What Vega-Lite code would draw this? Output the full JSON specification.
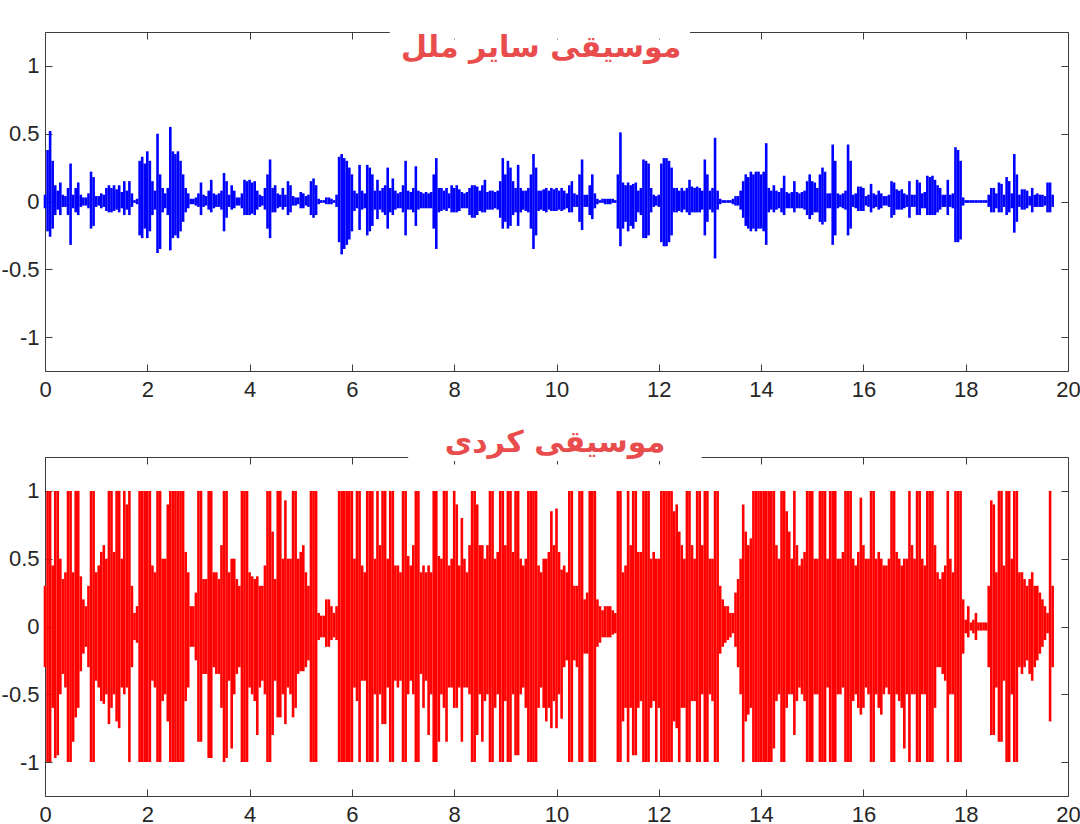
{
  "$schema": "https://vega.github.io/schema/vega-lite/v6.json",
  "description": "Waveforms of two music recordings: other nations (blue) and Kurdish (red)",
  "background": "white",
  "padding": {"left": 0, "top": 27, "right": 0, "bottom": 0},
  "spacing": 86,
  "bounds": "flush",
  "datasets": {
    "wave": [
      {"t":0,"bh":0.05,"bl":-0.05,"rh":0.3,"rl":-0.3},
      {"t":0.05,"bh":0.38,"bl":-0.22,"rh":1,"rl":-1},
      {"t":0.1,"bh":0.52,"bl":-0.26,"rh":1,"rl":-1},
      {"t":0.15,"bh":0.3,"bl":-0.2,"rh":0.45,"rl":-0.6},
      {"t":0.2,"bh":0.12,"bl":-0.1,"rh":1,"rl":-0.97},
      {"t":0.25,"bh":0.08,"bl":-0.06,"rh":1,"rl":-0.95},
      {"t":0.3,"bh":0.14,"bl":-0.1,"rh":0.5,"rl":-0.5},
      {"t":0.35,"bh":0.05,"bl":-0.04,"rh":0.35,"rl":-0.35},
      {"t":0.4,"bh":0.04,"bl":-0.04,"rh":0.4,"rl":-0.45},
      {"t":0.45,"bh":0.1,"bl":-0.1,"rh":1,"rl":-1},
      {"t":0.5,"bh":0.28,"bl":-0.32,"rh":1,"rl":-1},
      {"t":0.55,"bh":0.05,"bl":-0.05,"rh":0.4,"rl":-0.85},
      {"t":0.6,"bh":0.1,"bl":-0.08,"rh":1,"rl":-0.67},
      {"t":0.65,"bh":0.14,"bl":-0.1,"rh":1,"rl":-0.6},
      {"t":0.7,"bh":0.05,"bl":-0.04,"rh":0.37,"rl":-0.33},
      {"t":0.75,"bh":0.03,"bl":-0.03,"rh":0.2,"rl":-0.2},
      {"t":0.8,"bh":0.03,"bl":-0.03,"rh":0.15,"rl":-0.15},
      {"t":0.85,"bh":0.06,"bl":-0.05,"rh":0.3,"rl":-0.3},
      {"t":0.9,"bh":0.22,"bl":-0.2,"rh":1,"rl":-1},
      {"t":0.95,"bh":0.18,"bl":-0.18,"rh":1,"rl":-1},
      {"t":1,"bh":0.04,"bl":-0.04,"rh":0.4,"rl":-0.4},
      {"t":1.05,"bh":0.04,"bl":-0.03,"rh":0.45,"rl":-0.45},
      {"t":1.1,"bh":0.06,"bl":-0.05,"rh":0.55,"rl":-0.55},
      {"t":1.15,"bh":0.05,"bl":-0.04,"rh":0.6,"rl":-0.57},
      {"t":1.2,"bh":0.1,"bl":-0.07,"rh":0.5,"rl":-0.5},
      {"t":1.25,"bh":0.12,"bl":-0.08,"rh":1,"rl":-0.72},
      {"t":1.3,"bh":0.1,"bl":-0.08,"rh":1,"rl":-0.6},
      {"t":1.35,"bh":0.12,"bl":-0.07,"rh":0.55,"rl":-0.5},
      {"t":1.4,"bh":0.09,"bl":-0.06,"rh":1,"rl":-0.7},
      {"t":1.45,"bh":0.12,"bl":-0.08,"rh":1,"rl":-0.75},
      {"t":1.5,"bh":0.07,"bl":-0.05,"rh":0.5,"rl":-0.45},
      {"t":1.55,"bh":0.15,"bl":-0.1,"rh":1,"rl":-0.5},
      {"t":1.6,"bh":0.08,"bl":-0.06,"rh":0.9,"rl":-0.45},
      {"t":1.65,"bh":0.15,"bl":-0.1,"rh":1,"rl":-1},
      {"t":1.7,"bh":0.06,"bl":-0.04,"rh":0.3,"rl":-0.3},
      {"t":1.75,"bh":0.01,"bl":-0.01,"rh":0.1,"rl":-0.1},
      {"t":1.8,"bh":0.02,"bl":-0.02,"rh":0.15,"rl":-0.12},
      {"t":1.85,"bh":0.3,"bl":-0.25,"rh":1,"rl":-1},
      {"t":1.9,"bh":0.33,"bl":-0.27,"rh":1,"rl":-1},
      {"t":1.95,"bh":0.28,"bl":-0.2,"rh":1,"rl":-1},
      {"t":2,"bh":0.37,"bl":-0.27,"rh":1,"rl":-1},
      {"t":2.05,"bh":0.3,"bl":-0.22,"rh":1,"rl":-1},
      {"t":2.1,"bh":0.15,"bl":-0.1,"rh":0.45,"rl":-0.4},
      {"t":2.15,"bh":0.08,"bl":-0.06,"rh":0.4,"rl":-0.45},
      {"t":2.2,"bh":0.5,"bl":-0.38,"rh":1,"rl":-1},
      {"t":2.25,"bh":0.2,"bl":-0.35,"rh":1,"rl":-1},
      {"t":2.3,"bh":0.1,"bl":-0.08,"rh":0.5,"rl":-0.55},
      {"t":2.35,"bh":0.06,"bl":-0.05,"rh":0.5,"rl":-0.5},
      {"t":2.4,"bh":0.1,"bl":-0.1,"rh":0.9,"rl":-0.7},
      {"t":2.45,"bh":0.55,"bl":-0.36,"rh":1,"rl":-1},
      {"t":2.5,"bh":0.37,"bl":-0.27,"rh":1,"rl":-1},
      {"t":2.55,"bh":0.35,"bl":-0.25,"rh":1,"rl":-1},
      {"t":2.6,"bh":0.37,"bl":-0.27,"rh":1,"rl":-1},
      {"t":2.65,"bh":0.3,"bl":-0.22,"rh":1,"rl":-1},
      {"t":2.7,"bh":0.2,"bl":-0.15,"rh":1,"rl":-1},
      {"t":2.75,"bh":0.1,"bl":-0.08,"rh":0.55,"rl":-0.55},
      {"t":2.8,"bh":0.06,"bl":-0.05,"rh":0.4,"rl":-0.45},
      {"t":2.85,"bh":0.02,"bl":-0.02,"rh":0.15,"rl":-0.15},
      {"t":2.9,"bh":0.02,"bl":-0.02,"rh":0.15,"rl":-0.15},
      {"t":2.95,"bh":0.03,"bl":-0.03,"rh":0.25,"rl":-0.25},
      {"t":3,"bh":0.06,"bl":-0.04,"rh":1,"rl":-0.85},
      {"t":3.05,"bh":0.14,"bl":-0.1,"rh":1,"rl":-0.85},
      {"t":3.1,"bh":0.05,"bl":-0.04,"rh":0.35,"rl":-0.35},
      {"t":3.15,"bh":0.04,"bl":-0.03,"rh":0.35,"rl":-0.35},
      {"t":3.2,"bh":0.08,"bl":-0.06,"rh":1,"rl":-0.97},
      {"t":3.25,"bh":0.16,"bl":-0.08,"rh":1,"rl":-0.97},
      {"t":3.3,"bh":0.06,"bl":-0.05,"rh":0.4,"rl":-0.3},
      {"t":3.35,"bh":0.05,"bl":-0.04,"rh":0.4,"rl":-0.35},
      {"t":3.4,"bh":0.06,"bl":-0.04,"rh":0.35,"rl":-0.35},
      {"t":3.45,"bh":0.08,"bl":-0.06,"rh":0.6,"rl":-0.6},
      {"t":3.5,"bh":0.21,"bl":-0.22,"rh":1,"rl":-1},
      {"t":3.55,"bh":0.15,"bl":-0.12,"rh":1,"rl":-0.97},
      {"t":3.6,"bh":0.05,"bl":-0.04,"rh":0.4,"rl":-0.4},
      {"t":3.65,"bh":0.12,"bl":-0.06,"rh":0.5,"rl":-0.9},
      {"t":3.7,"bh":0.08,"bl":-0.05,"rh":0.5,"rl":-0.5},
      {"t":3.75,"bh":0.03,"bl":-0.03,"rh":0.35,"rl":-0.35},
      {"t":3.8,"bh":0.03,"bl":-0.03,"rh":0.3,"rl":-0.3},
      {"t":3.85,"bh":0.06,"bl":-0.05,"rh":1,"rl":-1},
      {"t":3.9,"bh":0.16,"bl":-0.1,"rh":1,"rl":-1},
      {"t":3.95,"bh":0.15,"bl":-0.1,"rh":1,"rl":-1},
      {"t":4,"bh":0.16,"bl":-0.1,"rh":0.4,"rl":-0.45},
      {"t":4.05,"bh":0.14,"bl":-0.09,"rh":0.37,"rl":-0.5},
      {"t":4.1,"bh":0.15,"bl":-0.1,"rh":0.35,"rl":-0.55},
      {"t":4.15,"bh":0.08,"bl":-0.06,"rh":0.37,"rl":-0.8},
      {"t":4.2,"bh":0.05,"bl":-0.04,"rh":0.3,"rl":-0.45},
      {"t":4.25,"bh":0.04,"bl":-0.03,"rh":0.3,"rl":-0.4},
      {"t":4.3,"bh":0.1,"bl":-0.06,"rh":0.45,"rl":-0.5},
      {"t":4.35,"bh":0.2,"bl":-0.2,"rh":1,"rl":-1},
      {"t":4.4,"bh":0.31,"bl":-0.27,"rh":1,"rl":-1},
      {"t":4.45,"bh":0.1,"bl":-0.08,"rh":0.7,"rl":-0.8},
      {"t":4.5,"bh":0.12,"bl":-0.08,"rh":0.35,"rl":-0.4},
      {"t":4.55,"bh":0.06,"bl":-0.05,"rh":1,"rl":-0.67},
      {"t":4.6,"bh":0.05,"bl":-0.04,"rh":1,"rl":-0.67},
      {"t":4.65,"bh":0.1,"bl":-0.06,"rh":0.5,"rl":-0.5},
      {"t":4.7,"bh":0.05,"bl":-0.04,"rh":0.93,"rl":-0.72},
      {"t":4.75,"bh":0.15,"bl":-0.1,"rh":0.5,"rl":-0.45},
      {"t":4.8,"bh":0.12,"bl":-0.08,"rh":0.5,"rl":-0.5},
      {"t":4.85,"bh":0.04,"bl":-0.03,"rh":1,"rl":-0.67},
      {"t":4.9,"bh":0.03,"bl":-0.03,"rh":1,"rl":-0.6},
      {"t":4.95,"bh":0.03,"bl":-0.02,"rh":0.5,"rl":-0.35},
      {"t":5,"bh":0.07,"bl":-0.05,"rh":0.55,"rl":-0.33},
      {"t":5.05,"bh":0.06,"bl":-0.05,"rh":0.6,"rl":-0.33},
      {"t":5.1,"bh":0.04,"bl":-0.03,"rh":0.4,"rl":-0.3},
      {"t":5.15,"bh":0.05,"bl":-0.04,"rh":0.3,"rl":-0.25},
      {"t":5.2,"bh":0.15,"bl":-0.1,"rh":1,"rl":-1},
      {"t":5.25,"bh":0.17,"bl":-0.12,"rh":1,"rl":-1},
      {"t":5.3,"bh":0.12,"bl":-0.1,"rh":1,"rl":-1},
      {"t":5.35,"bh":0.02,"bl":-0.02,"rh":0.1,"rl":-0.1},
      {"t":5.4,"bh":0.01,"bl":-0.01,"rh":0.08,"rl":-0.08},
      {"t":5.45,"bh":0.01,"bl":-0.01,"rh":0.08,"rl":-0.08},
      {"t":5.5,"bh":0.03,"bl":-0.02,"rh":0.2,"rl":-0.15},
      {"t":5.55,"bh":0.03,"bl":-0.02,"rh":0.2,"rl":-0.15},
      {"t":5.6,"bh":0.02,"bl":-0.02,"rh":0.15,"rl":-0.1},
      {"t":5.65,"bh":0.01,"bl":-0.01,"rh":0.1,"rl":-0.08},
      {"t":5.7,"bh":0.05,"bl":-0.04,"rh":0.15,"rl":-0.1},
      {"t":5.75,"bh":0.33,"bl":-0.3,"rh":1,"rl":-1},
      {"t":5.8,"bh":0.35,"bl":-0.39,"rh":1,"rl":-1},
      {"t":5.85,"bh":0.32,"bl":-0.35,"rh":1,"rl":-1},
      {"t":5.9,"bh":0.3,"bl":-0.32,"rh":1,"rl":-1},
      {"t":5.95,"bh":0.25,"bl":-0.28,"rh":1,"rl":-1},
      {"t":6,"bh":0.2,"bl":-0.22,"rh":1,"rl":-1},
      {"t":6.05,"bh":0.08,"bl":-0.07,"rh":0.5,"rl":-0.45},
      {"t":6.1,"bh":0.06,"bl":-0.05,"rh":1,"rl":-0.55},
      {"t":6.15,"bh":0.27,"bl":-0.21,"rh":1,"rl":-1},
      {"t":6.2,"bh":0.08,"bl":-0.06,"rh":0.45,"rl":-0.4},
      {"t":6.25,"bh":0.06,"bl":-0.05,"rh":0.4,"rl":-0.4},
      {"t":6.3,"bh":0.27,"bl":-0.25,"rh":1,"rl":-1},
      {"t":6.35,"bh":0.25,"bl":-0.22,"rh":1,"rl":-1},
      {"t":6.4,"bh":0.2,"bl":-0.18,"rh":1,"rl":-1},
      {"t":6.45,"bh":0.08,"bl":-0.06,"rh":0.5,"rl":-0.5},
      {"t":6.5,"bh":0.16,"bl":-0.13,"rh":1,"rl":-1},
      {"t":6.55,"bh":0.08,"bl":-0.06,"rh":0.6,"rl":-0.5},
      {"t":6.6,"bh":0.1,"bl":-0.08,"rh":1,"rl":-0.72},
      {"t":6.65,"bh":0.12,"bl":-0.1,"rh":1,"rl":-0.72},
      {"t":6.7,"bh":0.25,"bl":-0.2,"rh":0.5,"rl":-0.45},
      {"t":6.75,"bh":0.1,"bl":-0.08,"rh":1,"rl":-1},
      {"t":6.8,"bh":0.17,"bl":-0.1,"rh":1,"rl":-1},
      {"t":6.85,"bh":0.08,"bl":-0.06,"rh":0.45,"rl":-0.4},
      {"t":6.9,"bh":0.06,"bl":-0.05,"rh":0.45,"rl":-0.45},
      {"t":6.95,"bh":0.07,"bl":-0.05,"rh":0.4,"rl":-0.4},
      {"t":7,"bh":0.12,"bl":-0.08,"rh":1,"rl":-1},
      {"t":7.05,"bh":0.3,"bl":-0.25,"rh":1,"rl":-1},
      {"t":7.1,"bh":0.08,"bl":-0.06,"rh":0.52,"rl":-0.5},
      {"t":7.15,"bh":0.07,"bl":-0.06,"rh":0.45,"rl":-0.4},
      {"t":7.2,"bh":0.1,"bl":-0.08,"rh":0.6,"rl":-0.5},
      {"t":7.25,"bh":0.26,"bl":-0.18,"rh":1,"rl":-1},
      {"t":7.3,"bh":0.08,"bl":-0.06,"rh":1,"rl":-1},
      {"t":7.35,"bh":0.07,"bl":-0.05,"rh":0.4,"rl":-0.35},
      {"t":7.4,"bh":0.06,"bl":-0.05,"rh":0.45,"rl":-0.6},
      {"t":7.45,"bh":0.07,"bl":-0.05,"rh":0.4,"rl":-0.4},
      {"t":7.5,"bh":0.06,"bl":-0.05,"rh":0.45,"rl":-0.8},
      {"t":7.55,"bh":0.07,"bl":-0.05,"rh":0.4,"rl":-0.5},
      {"t":7.6,"bh":0.2,"bl":-0.2,"rh":1,"rl":-1},
      {"t":7.65,"bh":0.32,"bl":-0.35,"rh":1,"rl":-1},
      {"t":7.7,"bh":0.1,"bl":-0.08,"rh":0.52,"rl":-0.85},
      {"t":7.75,"bh":0.1,"bl":-0.07,"rh":0.5,"rl":-0.5},
      {"t":7.8,"bh":0.08,"bl":-0.06,"rh":1,"rl":-0.6},
      {"t":7.85,"bh":0.1,"bl":-0.07,"rh":1,"rl":-0.85},
      {"t":7.9,"bh":0.06,"bl":-0.05,"rh":0.45,"rl":-0.45},
      {"t":7.95,"bh":0.12,"bl":-0.08,"rh":0.5,"rl":-0.45},
      {"t":8,"bh":0.1,"bl":-0.08,"rh":1,"rl":-0.6},
      {"t":8.05,"bh":0.12,"bl":-0.08,"rh":0.9,"rl":-0.6},
      {"t":8.1,"bh":0.09,"bl":-0.07,"rh":0.45,"rl":-0.45},
      {"t":8.15,"bh":0.07,"bl":-0.05,"rh":0.8,"rl":-0.85},
      {"t":8.2,"bh":0.06,"bl":-0.05,"rh":0.5,"rl":-0.45},
      {"t":8.25,"bh":0.07,"bl":-0.05,"rh":0.4,"rl":-0.45},
      {"t":8.3,"bh":0.1,"bl":-0.1,"rh":0.6,"rl":-0.5},
      {"t":8.35,"bh":0.12,"bl":-0.12,"rh":1,"rl":-1},
      {"t":8.4,"bh":0.12,"bl":-0.12,"rh":1,"rl":-1},
      {"t":8.45,"bh":0.11,"bl":-0.1,"rh":0.9,"rl":-0.8},
      {"t":8.5,"bh":0.08,"bl":-0.07,"rh":0.6,"rl":-0.5},
      {"t":8.55,"bh":0.12,"bl":-0.08,"rh":0.6,"rl":-0.85},
      {"t":8.6,"bh":0.16,"bl":-0.08,"rh":0.5,"rl":-0.55},
      {"t":8.65,"bh":0.07,"bl":-0.06,"rh":0.6,"rl":-0.5},
      {"t":8.7,"bh":0.08,"bl":-0.06,"rh":1,"rl":-1},
      {"t":8.75,"bh":0.08,"bl":-0.06,"rh":1,"rl":-1},
      {"t":8.8,"bh":0.07,"bl":-0.05,"rh":0.5,"rl":-0.6},
      {"t":8.85,"bh":0.08,"bl":-0.06,"rh":0.55,"rl":-0.5},
      {"t":8.9,"bh":0.15,"bl":-0.12,"rh":1,"rl":-1},
      {"t":8.95,"bh":0.32,"bl":-0.2,"rh":1,"rl":-1},
      {"t":9,"bh":0.2,"bl":-0.15,"rh":0.6,"rl":-0.55},
      {"t":9.05,"bh":0.3,"bl":-0.2,"rh":1,"rl":-1},
      {"t":9.1,"bh":0.25,"bl":-0.18,"rh":1,"rl":-1},
      {"t":9.15,"bh":0.15,"bl":-0.1,"rh":0.55,"rl":-0.5},
      {"t":9.2,"bh":0.1,"bl":-0.08,"rh":1,"rl":-0.95},
      {"t":9.25,"bh":0.27,"bl":-0.18,"rh":1,"rl":-0.95},
      {"t":9.3,"bh":0.1,"bl":-0.08,"rh":0.5,"rl":-0.5},
      {"t":9.35,"bh":0.08,"bl":-0.06,"rh":0.45,"rl":-0.45},
      {"t":9.4,"bh":0.08,"bl":-0.07,"rh":0.5,"rl":-0.6},
      {"t":9.45,"bh":0.1,"bl":-0.08,"rh":1,"rl":-1},
      {"t":9.5,"bh":0.2,"bl":-0.2,"rh":1,"rl":-1},
      {"t":9.55,"bh":0.35,"bl":-0.35,"rh":1,"rl":-1},
      {"t":9.6,"bh":0.25,"bl":-0.25,"rh":1,"rl":-1},
      {"t":9.65,"bh":0.08,"bl":-0.07,"rh":0.45,"rl":-0.6},
      {"t":9.7,"bh":0.08,"bl":-0.06,"rh":0.4,"rl":-0.45},
      {"t":9.75,"bh":0.09,"bl":-0.07,"rh":0.5,"rl":-0.6},
      {"t":9.8,"bh":0.1,"bl":-0.08,"rh":0.5,"rl":-0.7},
      {"t":9.85,"bh":0.08,"bl":-0.06,"rh":0.55,"rl":-0.6},
      {"t":9.9,"bh":0.1,"bl":-0.07,"rh":0.85,"rl":-0.75},
      {"t":9.95,"bh":0.09,"bl":-0.07,"rh":0.6,"rl":-0.55},
      {"t":10,"bh":0.1,"bl":-0.07,"rh":0.87,"rl":-0.75},
      {"t":10.05,"bh":0.08,"bl":-0.06,"rh":0.55,"rl":-0.5},
      {"t":10.1,"bh":0.1,"bl":-0.07,"rh":0.42,"rl":-0.68},
      {"t":10.15,"bh":0.08,"bl":-0.06,"rh":0.45,"rl":-0.3},
      {"t":10.2,"bh":0.06,"bl":-0.05,"rh":0.4,"rl":-0.25},
      {"t":10.25,"bh":0.12,"bl":-0.08,"rh":1,"rl":-1},
      {"t":10.3,"bh":0.15,"bl":-0.08,"rh":1,"rl":-1},
      {"t":10.35,"bh":0.06,"bl":-0.04,"rh":0.3,"rl":-0.25},
      {"t":10.4,"bh":0.05,"bl":-0.04,"rh":0.3,"rl":-0.3},
      {"t":10.45,"bh":0.2,"bl":-0.15,"rh":1,"rl":-1},
      {"t":10.5,"bh":0.31,"bl":-0.21,"rh":1,"rl":-1},
      {"t":10.55,"bh":0.05,"bl":-0.04,"rh":0.2,"rl":-0.2},
      {"t":10.6,"bh":0.05,"bl":-0.04,"rh":0.25,"rl":-0.2},
      {"t":10.65,"bh":0.12,"bl":-0.1,"rh":1,"rl":-1},
      {"t":10.7,"bh":0.2,"bl":-0.13,"rh":1,"rl":-1},
      {"t":10.75,"bh":0.06,"bl":-0.05,"rh":1,"rl":-1},
      {"t":10.8,"bh":0.02,"bl":-0.02,"rh":0.2,"rl":-0.15},
      {"t":10.85,"bh":0.01,"bl":-0.01,"rh":0.15,"rl":-0.12},
      {"t":10.9,"bh":0.02,"bl":-0.01,"rh":0.12,"rl":-0.08},
      {"t":10.95,"bh":0.02,"bl":-0.02,"rh":0.15,"rl":-0.08},
      {"t":11,"bh":0.02,"bl":-0.02,"rh":0.15,"rl":-0.08},
      {"t":11.05,"bh":0.02,"bl":-0.02,"rh":0.15,"rl":-0.08},
      {"t":11.1,"bh":0.02,"bl":-0.01,"rh":0.12,"rl":-0.06},
      {"t":11.15,"bh":0.01,"bl":-0.01,"rh":0.1,"rl":-0.05},
      {"t":11.2,"bh":0.2,"bl":-0.2,"rh":1,"rl":-1},
      {"t":11.25,"bh":0.51,"bl":-0.33,"rh":1,"rl":-1},
      {"t":11.3,"bh":0.14,"bl":-0.2,"rh":0.4,"rl":-0.7},
      {"t":11.35,"bh":0.12,"bl":-0.15,"rh":0.45,"rl":-0.6},
      {"t":11.4,"bh":0.14,"bl":-0.22,"rh":1,"rl":-1},
      {"t":11.45,"bh":0.12,"bl":-0.18,"rh":0.6,"rl":-0.6},
      {"t":11.5,"bh":0.13,"bl":-0.2,"rh":1,"rl":-0.95},
      {"t":11.55,"bh":0.14,"bl":-0.15,"rh":1,"rl":-0.95},
      {"t":11.6,"bh":0.08,"bl":-0.08,"rh":0.55,"rl":-0.6},
      {"t":11.65,"bh":0.1,"bl":-0.1,"rh":0.55,"rl":-0.55},
      {"t":11.7,"bh":0.31,"bl":-0.27,"rh":1,"rl":-1},
      {"t":11.75,"bh":0.3,"bl":-0.27,"rh":1,"rl":-1},
      {"t":11.8,"bh":0.28,"bl":-0.25,"rh":1,"rl":-1},
      {"t":11.85,"bh":0.1,"bl":-0.08,"rh":0.5,"rl":-0.6},
      {"t":11.9,"bh":0.05,"bl":-0.04,"rh":0.55,"rl":-0.55},
      {"t":11.95,"bh":0.04,"bl":-0.03,"rh":0.5,"rl":-1},
      {"t":12,"bh":0.05,"bl":-0.04,"rh":0.5,"rl":-0.6},
      {"t":12.05,"bh":0.28,"bl":-0.3,"rh":1,"rl":-1},
      {"t":12.1,"bh":0.32,"bl":-0.33,"rh":1,"rl":-1},
      {"t":12.15,"bh":0.32,"bl":-0.33,"rh":1,"rl":-1},
      {"t":12.2,"bh":0.3,"bl":-0.3,"rh":1,"rl":-1},
      {"t":12.25,"bh":0.25,"bl":-0.25,"rh":1,"rl":-1},
      {"t":12.3,"bh":0.1,"bl":-0.08,"rh":0.85,"rl":-0.7},
      {"t":12.35,"bh":0.1,"bl":-0.08,"rh":0.9,"rl":-0.75},
      {"t":12.4,"bh":0.08,"bl":-0.07,"rh":0.7,"rl":-1},
      {"t":12.45,"bh":0.1,"bl":-0.08,"rh":0.6,"rl":-0.6},
      {"t":12.5,"bh":0.08,"bl":-0.06,"rh":0.5,"rl":-0.6},
      {"t":12.55,"bh":0.1,"bl":-0.08,"rh":1,"rl":-1},
      {"t":12.6,"bh":0.16,"bl":-0.1,"rh":1,"rl":-1},
      {"t":12.65,"bh":0.11,"bl":-0.08,"rh":0.6,"rl":-0.55},
      {"t":12.7,"bh":0.1,"bl":-0.08,"rh":0.5,"rl":-0.55},
      {"t":12.75,"bh":0.11,"bl":-0.08,"rh":1,"rl":-1},
      {"t":12.8,"bh":0.1,"bl":-0.08,"rh":1,"rl":-1},
      {"t":12.85,"bh":0.08,"bl":-0.06,"rh":0.6,"rl":-0.5},
      {"t":12.9,"bh":0.31,"bl":-0.25,"rh":1,"rl":-1},
      {"t":12.95,"bh":0.2,"bl":-0.15,"rh":1,"rl":-1},
      {"t":13,"bh":0.08,"bl":-0.06,"rh":0.5,"rl":-0.5},
      {"t":13.05,"bh":0.1,"bl":-0.08,"rh":0.5,"rl":-0.55},
      {"t":13.1,"bh":0.47,"bl":-0.42,"rh":1,"rl":-1},
      {"t":13.15,"bh":0.08,"bl":-0.06,"rh":1,"rl":-1},
      {"t":13.2,"bh":0.02,"bl":-0.02,"rh":0.3,"rl":-0.2},
      {"t":13.25,"bh":0.01,"bl":-0.01,"rh":0.2,"rl":-0.15},
      {"t":13.3,"bh":0.01,"bl":-0.01,"rh":0.15,"rl":-0.12},
      {"t":13.35,"bh":0.01,"bl":-0.01,"rh":0.15,"rl":-0.1},
      {"t":13.4,"bh":0.01,"bl":-0.01,"rh":0.1,"rl":-0.08},
      {"t":13.45,"bh":0.02,"bl":-0.02,"rh":0.1,"rl":-0.05},
      {"t":13.5,"bh":0.04,"bl":-0.03,"rh":0.25,"rl":-0.15},
      {"t":13.55,"bh":0.04,"bl":-0.03,"rh":0.35,"rl":-0.3},
      {"t":13.6,"bh":0.08,"bl":-0.06,"rh":0.5,"rl":-0.5},
      {"t":13.65,"bh":0.15,"bl":-0.12,"rh":0.9,"rl":-1},
      {"t":13.7,"bh":0.2,"bl":-0.18,"rh":0.7,"rl":-0.7},
      {"t":13.75,"bh":0.18,"bl":-0.2,"rh":0.6,"rl":-0.65},
      {"t":13.8,"bh":0.22,"bl":-0.22,"rh":0.65,"rl":-0.6},
      {"t":13.85,"bh":0.2,"bl":-0.2,"rh":1,"rl":-1},
      {"t":13.9,"bh":0.22,"bl":-0.22,"rh":1,"rl":-1},
      {"t":13.95,"bh":0.22,"bl":-0.2,"rh":1,"rl":-1},
      {"t":14,"bh":0.2,"bl":-0.2,"rh":1,"rl":-1},
      {"t":14.05,"bh":0.22,"bl":-0.22,"rh":1,"rl":-1},
      {"t":14.1,"bh":0.43,"bl":-0.32,"rh":1,"rl":-1},
      {"t":14.15,"bh":0.1,"bl":-0.08,"rh":1,"rl":-1},
      {"t":14.2,"bh":0.08,"bl":-0.06,"rh":1,"rl":-1},
      {"t":14.25,"bh":0.12,"bl":-0.08,"rh":1,"rl":-0.9},
      {"t":14.3,"bh":0.08,"bl":-0.06,"rh":0.6,"rl":-0.55},
      {"t":14.35,"bh":0.07,"bl":-0.05,"rh":0.5,"rl":-0.5},
      {"t":14.4,"bh":0.1,"bl":-0.08,"rh":1,"rl":-1},
      {"t":14.45,"bh":0.19,"bl":-0.1,"rh":1,"rl":-1},
      {"t":14.5,"bh":0.07,"bl":-0.05,"rh":0.85,"rl":-0.6},
      {"t":14.55,"bh":0.06,"bl":-0.05,"rh":0.7,"rl":-0.5},
      {"t":14.6,"bh":0.07,"bl":-0.05,"rh":0.5,"rl":-0.5},
      {"t":14.65,"bh":0.15,"bl":-0.08,"rh":1,"rl":-0.8},
      {"t":14.7,"bh":0.07,"bl":-0.05,"rh":0.6,"rl":-0.55},
      {"t":14.75,"bh":0.06,"bl":-0.05,"rh":0.45,"rl":-0.45},
      {"t":14.8,"bh":0.07,"bl":-0.05,"rh":0.5,"rl":-0.5},
      {"t":14.85,"bh":0.08,"bl":-0.06,"rh":0.55,"rl":-0.55},
      {"t":14.9,"bh":0.15,"bl":-0.1,"rh":1,"rl":-1},
      {"t":14.95,"bh":0.2,"bl":-0.13,"rh":1,"rl":-1},
      {"t":15,"bh":0.15,"bl":-0.1,"rh":1,"rl":-1},
      {"t":15.05,"bh":0.14,"bl":-0.08,"rh":0.5,"rl":-0.5},
      {"t":15.1,"bh":0.1,"bl":-0.08,"rh":0.5,"rl":-0.5},
      {"t":15.15,"bh":0.2,"bl":-0.15,"rh":1,"rl":-1},
      {"t":15.2,"bh":0.25,"bl":-0.17,"rh":1,"rl":-1},
      {"t":15.25,"bh":0.22,"bl":-0.15,"rh":1,"rl":-1},
      {"t":15.3,"bh":0.06,"bl":-0.05,"rh":0.5,"rl":-0.45},
      {"t":15.35,"bh":0.06,"bl":-0.05,"rh":1,"rl":-1},
      {"t":15.4,"bh":0.42,"bl":-0.32,"rh":1,"rl":-1},
      {"t":15.45,"bh":0.3,"bl":-0.25,"rh":1,"rl":-1},
      {"t":15.5,"bh":0.06,"bl":-0.05,"rh":0.5,"rl":-0.5},
      {"t":15.55,"bh":0.05,"bl":-0.04,"rh":0.5,"rl":-0.5},
      {"t":15.6,"bh":0.06,"bl":-0.05,"rh":0.55,"rl":-0.45},
      {"t":15.65,"bh":0.08,"bl":-0.06,"rh":1,"rl":-1},
      {"t":15.7,"bh":0.42,"bl":-0.25,"rh":1,"rl":-1},
      {"t":15.75,"bh":0.3,"bl":-0.2,"rh":1,"rl":-1},
      {"t":15.8,"bh":0.05,"bl":-0.04,"rh":0.5,"rl":-0.55},
      {"t":15.85,"bh":0.06,"bl":-0.05,"rh":0.45,"rl":-0.5},
      {"t":15.9,"bh":0.11,"bl":-0.07,"rh":0.55,"rl":-0.6},
      {"t":15.95,"bh":0.11,"bl":-0.07,"rh":0.95,"rl":-0.65},
      {"t":16,"bh":0.1,"bl":-0.07,"rh":0.6,"rl":-0.6},
      {"t":16.05,"bh":0.04,"bl":-0.03,"rh":0.5,"rl":-0.45},
      {"t":16.1,"bh":0.05,"bl":-0.04,"rh":0.5,"rl":-0.5},
      {"t":16.15,"bh":0.13,"bl":-0.08,"rh":1,"rl":-1},
      {"t":16.2,"bh":0.06,"bl":-0.05,"rh":1,"rl":-1},
      {"t":16.25,"bh":0.05,"bl":-0.04,"rh":0.5,"rl":-0.5},
      {"t":16.3,"bh":0.08,"bl":-0.06,"rh":0.55,"rl":-0.6},
      {"t":16.35,"bh":0.06,"bl":-0.05,"rh":0.5,"rl":-0.65},
      {"t":16.4,"bh":0.04,"bl":-0.03,"rh":0.45,"rl":-0.5},
      {"t":16.45,"bh":0.04,"bl":-0.03,"rh":0.45,"rl":-0.45},
      {"t":16.5,"bh":0.05,"bl":-0.04,"rh":0.5,"rl":-0.5},
      {"t":16.55,"bh":0.15,"bl":-0.12,"rh":1,"rl":-1},
      {"t":16.6,"bh":0.14,"bl":-0.1,"rh":1,"rl":-1},
      {"t":16.65,"bh":0.09,"bl":-0.06,"rh":0.55,"rl":-0.5},
      {"t":16.7,"bh":0.08,"bl":-0.06,"rh":0.5,"rl":-0.55},
      {"t":16.75,"bh":0.09,"bl":-0.06,"rh":0.45,"rl":-0.6},
      {"t":16.8,"bh":0.06,"bl":-0.05,"rh":0.5,"rl":-0.9},
      {"t":16.85,"bh":0.05,"bl":-0.04,"rh":0.5,"rl":-0.5},
      {"t":16.9,"bh":0.15,"bl":-0.12,"rh":1,"rl":-1},
      {"t":16.95,"bh":0.05,"bl":-0.04,"rh":0.6,"rl":-0.5},
      {"t":17,"bh":0.05,"bl":-0.04,"rh":0.5,"rl":-0.5},
      {"t":17.05,"bh":0.16,"bl":-0.1,"rh":1,"rl":-1},
      {"t":17.1,"bh":0.14,"bl":-0.1,"rh":1,"rl":-1},
      {"t":17.15,"bh":0.06,"bl":-0.05,"rh":0.5,"rl":-0.5},
      {"t":17.2,"bh":0.07,"bl":-0.05,"rh":0.45,"rl":-0.5},
      {"t":17.25,"bh":0.19,"bl":-0.1,"rh":1,"rl":-1},
      {"t":17.3,"bh":0.18,"bl":-0.1,"rh":1,"rl":-1},
      {"t":17.35,"bh":0.19,"bl":-0.1,"rh":1,"rl":-1},
      {"t":17.4,"bh":0.16,"bl":-0.1,"rh":0.6,"rl":-0.6},
      {"t":17.45,"bh":0.12,"bl":-0.08,"rh":0.4,"rl":-0.3},
      {"t":17.5,"bh":0.1,"bl":-0.06,"rh":0.35,"rl":-0.3},
      {"t":17.55,"bh":0.05,"bl":-0.04,"rh":0.4,"rl":-0.35},
      {"t":17.6,"bh":0.05,"bl":-0.04,"rh":0.45,"rl":-0.4},
      {"t":17.65,"bh":0.16,"bl":-0.1,"rh":1,"rl":-1},
      {"t":17.7,"bh":0.05,"bl":-0.04,"rh":0.5,"rl":-0.5},
      {"t":17.75,"bh":0.06,"bl":-0.05,"rh":0.4,"rl":-0.5},
      {"t":17.8,"bh":0.4,"bl":-0.3,"rh":1,"rl":-1},
      {"t":17.85,"bh":0.38,"bl":-0.3,"rh":1,"rl":-1},
      {"t":17.9,"bh":0.3,"bl":-0.28,"rh":1,"rl":-1},
      {"t":17.95,"bh":0.03,"bl":-0.03,"rh":0.2,"rl":-0.2},
      {"t":18,"bh":0.01,"bl":-0.01,"rh":0.05,"rl":-0.05},
      {"t":18.05,"bh":0.01,"bl":-0.01,"rh":0.15,"rl":-0.08},
      {"t":18.1,"bh":0.01,"bl":-0.01,"rh":0.03,"rl":-0.03},
      {"t":18.15,"bh":0.01,"bl":-0.01,"rh":0.05,"rl":-0.05},
      {"t":18.2,"bh":0.01,"bl":-0.01,"rh":0.1,"rl":-0.1},
      {"t":18.25,"bh":0.01,"bl":-0.01,"rh":0.03,"rl":-0.03},
      {"t":18.3,"bh":0.01,"bl":-0.01,"rh":0.03,"rl":-0.03},
      {"t":18.35,"bh":0.01,"bl":-0.01,"rh":0.03,"rl":-0.03},
      {"t":18.4,"bh":0.01,"bl":-0.01,"rh":0.03,"rl":-0.03},
      {"t":18.45,"bh":0.05,"bl":-0.04,"rh":0.3,"rl":-0.3},
      {"t":18.5,"bh":0.1,"bl":-0.08,"rh":0.93,"rl":-0.8},
      {"t":18.55,"bh":0.1,"bl":-0.08,"rh":0.9,"rl":-0.8},
      {"t":18.6,"bh":0.06,"bl":-0.05,"rh":0.4,"rl":-0.45},
      {"t":18.65,"bh":0.14,"bl":-0.08,"rh":1,"rl":-0.85},
      {"t":18.7,"bh":0.13,"bl":-0.08,"rh":1,"rl":-0.85},
      {"t":18.75,"bh":0.05,"bl":-0.04,"rh":0.45,"rl":-0.4},
      {"t":18.8,"bh":0.18,"bl":-0.1,"rh":1,"rl":-1},
      {"t":18.85,"bh":0.15,"bl":-0.08,"rh":1,"rl":-1},
      {"t":18.9,"bh":0.06,"bl":-0.05,"rh":0.5,"rl":-0.5},
      {"t":18.95,"bh":0.35,"bl":-0.23,"rh":1,"rl":-1},
      {"t":19,"bh":0.2,"bl":-0.15,"rh":1,"rl":-1},
      {"t":19.05,"bh":0.05,"bl":-0.04,"rh":0.4,"rl":-0.3},
      {"t":19.1,"bh":0.09,"bl":-0.06,"rh":0.4,"rl":-0.35},
      {"t":19.15,"bh":0.09,"bl":-0.06,"rh":0.35,"rl":-0.3},
      {"t":19.2,"bh":0.08,"bl":-0.05,"rh":0.3,"rl":-0.25},
      {"t":19.25,"bh":0.04,"bl":-0.03,"rh":0.35,"rl":-0.35},
      {"t":19.3,"bh":0.1,"bl":-0.08,"rh":0.4,"rl":-0.4},
      {"t":19.35,"bh":0.05,"bl":-0.04,"rh":0.3,"rl":-0.3},
      {"t":19.4,"bh":0.06,"bl":-0.04,"rh":0.3,"rl":-0.25},
      {"t":19.45,"bh":0.05,"bl":-0.04,"rh":0.25,"rl":-0.2},
      {"t":19.5,"bh":0.05,"bl":-0.04,"rh":0.2,"rl":-0.15},
      {"t":19.55,"bh":0.04,"bl":-0.03,"rh":0.15,"rl":-0.1},
      {"t":19.6,"bh":0.14,"bl":-0.08,"rh":0.1,"rl":-0.05},
      {"t":19.65,"bh":0.14,"bl":-0.08,"rh":1,"rl":-0.7},
      {"t":19.7,"bh":0.05,"bl":-0.04,"rh":0.3,"rl":-0.3}
    ]
  },
  "vconcat": [
    {
      "width": 1023,
      "height": 339,
      "layer": [
        {
          "data": {"name": "wave"},
          "mark": {"type": "rule", "color": "#0000ff", "strokeWidth": 2.6},
          "encoding": {
            "x": {"field": "t", "type": "quantitative", "scale": {"domain": [0, 20], "nice": false, "zero": false},
                  "axis": {"orient": "bottom", "title": null, "values": [0, 2, 4, 6, 8, 10, 12, 14, 16, 18, 20], "labelExpr": "'' + datum.value", "labelFlush": false, "labelOverlap": false, "labelPadding": 15}},
            "y": {"field": "bl", "type": "quantitative", "scale": {"domain": [-1.25, 1.25], "nice": false},
                  "axis": {"orient": "left", "title": null, "values": [-1, -0.5, 0, 0.5, 1], "labelExpr": "'' + datum.value", "labelPadding": 13}},
            "y2": {"field": "bh"}
          }
        },
        {
          "data": {"values": [{}]},
          "mark": {"type": "rect", "color": "white"},
          "encoding": {
            "x": {"datum": 6.74, "type": "quantitative", "axis": {"orient": "top", "title": null, "labels": false, "values": [0, 2, 4, 6, 8, 10, 12, 14, 16, 18, 20]}},
            "x2": {"datum": 12.61},
            "y": {"datum": 1.2, "type": "quantitative", "axis": {"orient": "right", "title": null, "labels": false, "values": [-1, -0.5, 0, 0.5, 1]}},
            "y2": {"datum": 1.28}
          }
        },
        {
          "data": {"values": [{}]},
          "mark": {"type": "text", "text": "موسیقی سایر ملل", "font": "DejaVu Sans", "fontSize": 30, "fontWeight": "bold", "color": "#e84c4c", "align": "center", "baseline": "middle"},
          "encoding": {
            "x": {"datum": 9.7, "type": "quantitative", "axis": null},
            "y": {"datum": 1.13, "type": "quantitative", "axis": null}
          }
        }
      ],
      "resolve": {"axis": {"x": "independent", "y": "independent"}}
    },
    {
      "width": 1023,
      "height": 339,
      "layer": [
        {
          "data": {"name": "wave"},
          "mark": {"type": "rule", "color": "#ff0000", "strokeWidth": 2.6},
          "encoding": {
            "x": {"field": "t", "type": "quantitative", "scale": {"domain": [0, 20], "nice": false, "zero": false},
                  "axis": {"orient": "bottom", "title": null, "values": [0, 2, 4, 6, 8, 10, 12, 14, 16, 18, 20], "labelExpr": "'' + datum.value", "labelFlush": false, "labelOverlap": false, "labelPadding": 15}},
            "y": {"field": "rl", "type": "quantitative", "scale": {"domain": [-1.25, 1.25], "nice": false},
                  "axis": {"orient": "left", "title": null, "values": [-1, -0.5, 0, 0.5, 1], "labelExpr": "'' + datum.value", "labelPadding": 13}},
            "y2": {"field": "rh"}
          }
        },
        {
          "data": {"values": [{}]},
          "mark": {"type": "rect", "color": "white"},
          "encoding": {
            "x": {"datum": 7.1, "type": "quantitative", "axis": {"orient": "top", "title": null, "labels": false, "values": [0, 2, 4, 6, 8, 10, 12, 14, 16, 18, 20]}},
            "x2": {"datum": 12.84},
            "y": {"datum": 1.22, "type": "quantitative", "axis": {"orient": "right", "title": null, "labels": false, "values": [-1, -0.5, 0, 0.5, 1]}},
            "y2": {"datum": 1.3}
          }
        },
        {
          "data": {"values": [{}]},
          "mark": {"type": "text", "text": "موسیقی کردی", "font": "DejaVu Sans", "fontSize": 30, "fontWeight": "bold", "color": "#e84c4c", "align": "center", "baseline": "middle"},
          "encoding": {
            "x": {"datum": 9.97, "type": "quantitative", "axis": null},
            "y": {"datum": 1.353, "type": "quantitative", "axis": null}
          }
        }
      ],
      "resolve": {"axis": {"x": "independent", "y": "independent"}}
    }
  ],
  "config": {
    "view": {"stroke": "#3c3c3c", "strokeWidth": 1},
    "axis": {"grid": false, "domain": false, "labelFont": "Liberation Sans", "labelFontSize": 22, "labelColor": "#262626", "tickColor": "#3c3c3c", "tickSize": -7, "tickWidth": 1}
  }
}
